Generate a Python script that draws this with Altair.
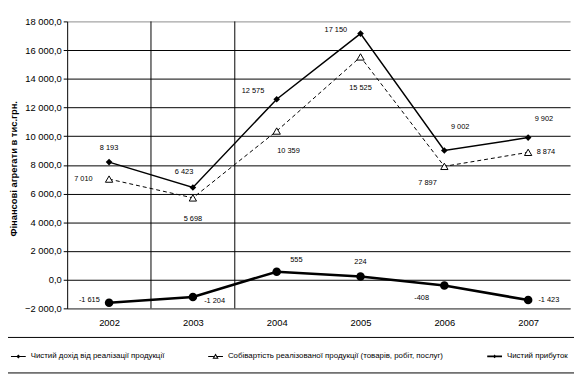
import altair as alt
import pandas as pd

# ---------------- data ----------------
years = ["2002", "2003", "2004", "2005", "2006", "2007"]
revenue = [8193, 6423, 12575, 17150, 9002, 9902]
cost = [7010, 5698, 10359, 15525, 7897, 8874]
profit = [-1615, -1204, 555, 224, -408, -1423]
series_names = [
    "Чистий дохід від реалізації продукції",
    "Собівартість реалізованої продукції (товарів, робіт, послуг)",
    "Чистий прибуток",
]
y_ticks = list(range(-2000, 18001, 2000))
grid_after = ["2002", "2003"]
y_title = "Фінансові агрегати в тис.грн."

# label placement (pixel offsets from the point), per series
label_offsets = [
    [(0, -14), (-9, -16), (-24, -8), (-25, -4), (16, -24), (16, -19)],
    [(-26, 0), (0, 21), (12, 20), (0, 32), (-17, 17), (18, 0)],
    [(-20, -3), (22, 4), (20, -12), (0, -15), (-23, 13), (21, 0)],
]

FONT = "Liberation Sans"

rows = []
for name, vals in zip(series_names, [revenue, cost, profit]):
    for yr, v in zip(years, vals):
        rows.append({"year": yr, "value": v, "series": name,
                     "label": f"{v:,}".replace(",", " ")})
df = pd.DataFrame(rows)

x_scale = alt.Scale(type="point", domain=years, padding=0.5)
y_scale = alt.Scale(domain=[-2000, 18000], nice=False, zero=False)

x_axis = alt.Axis(title=None, labelAngle=0, ticks=False, domainColor="#8c8c8c",
                  domainWidth=1, labelFont=FONT, labelFontSize=9.5,
                  labelColor="black", labelPadding=9, grid=False)
y_axis = alt.Axis(
    values=y_ticks,
    labelExpr="replace(replace(format(datum.value, ',.1f'), regexp(',', 'g'), ' '), '.', ',')",
    tickSize=4, tickColor="black", domainColor="black", labelFont=FONT,
    labelFontSize=9.5, labelColor="black", labelPadding=2,
    grid=True,
    gridColor={"condition": {"test": "datum.value === 18000", "value": "#8c8c8c"},
               "value": "black"},
    title=y_title, titleFont=FONT, titleFontSize=9.5, titleFontWeight="bold",
    titleColor="black", titleX=-54, titleY=149, titleAngle=-90,
    titleAlign="center", titleBaseline="middle",
)


def X():
    return alt.X("year:N", scale=x_scale, axis=x_axis)


def Y():
    return alt.Y("value:Q", scale=y_scale, axis=y_axis)


base = alt.Chart(df)

rules = alt.Chart(pd.DataFrame({"year": grid_after})).mark_rule(
    color="black", strokeWidth=1, xOffset=42.5
).encode(x=X())

line_styles = [
    dict(strokeWidth=1.5),
    dict(strokeWidth=1, strokeDash=[4, 3]),
    dict(strokeWidth=2.6),
]
point_styles = [
    dict(shape="diamond", size=45, filled=True, color="black"),
    dict(shape="triangle-up", size=55, filled=False, fill="white", stroke="black", strokeWidth=1),
    dict(shape="circle", size=75, filled=True, color="black"),
]

layers = [rules]
for i, name in enumerate(series_names):
    sub = base.transform_filter(alt.datum.series == name)
    layers.append(sub.mark_line(color="black", **line_styles[i]).encode(x=X(), y=Y()))
for i, name in enumerate(series_names):
    sub = base.transform_filter(alt.datum.series == name)
    layers.append(sub.mark_point(opacity=1, **point_styles[i]).encode(x=X(), y=Y()))
for i, name in enumerate(series_names):
    for j, yr in enumerate(years):
        dx, dy = label_offsets[i][j]
        sub = base.transform_filter(
            (alt.datum.series == name) & (alt.datum.year == yr))
        layers.append(sub.mark_text(font=FONT, fontSize=7.5, color="black",
                                    dx=dx, dy=dy, align="center",
                                    baseline="middle").encode(
            x=X(), y=Y(), text="label:N"))

# legend symbols: line + marker, drawn as filled custom paths
legend_paths = [
    "M-1,-0.07H1V0.07H-1ZM0,-0.27L0.27,0L0,0.27L-0.27,0Z",
    "M-1,-0.07H-0.24V0.07H-1ZM0.24,-0.07H1V0.07H0.24Z"
    "M0,-0.4L0.42,0.32L-0.42,0.32ZM0,-0.12L-0.176,0.18L0.176,0.18Z",
    "M-1,-0.12H1V0.12H-1ZM0,-0.25L0.25,0L0,0.25L-0.25,0Z",
]
legend_def = alt.Legend(
    title=None, orient="none", legendX=-69, legendY=320,
    direction="horizontal", columns=3, symbolSize=225, symbolOpacity=1,
    symbolStrokeWidth=0, labelFont=FONT,
    labelFontSize=8, labelColor="black", labelOffset=5, labelLimit=0,
    columnPadding=44, padding=12, strokeColor="black",
)
legend_layer = base.transform_filter(alt.datum.year == "2002").mark_point(
    opacity=0, size=225, strokeWidth=0
).encode(
    x=X(), y=Y(),
    shape=alt.Shape("series:N", scale=alt.Scale(domain=series_names, range=legend_paths),
                    legend=legend_def),
    fill=alt.Fill("series:N", scale=alt.Scale(domain=series_names,
                                              range=["black", "black", "black"]),
                  legend=legend_def),
)
layers.append(legend_layer)

chart = alt.layer(*layers).properties(
    width=510, height=291,
    autosize=alt.AutoSizeParams(type="none"),
    padding={"left": 60, "top": 11, "right": 4, "bottom": 66},
    background="white",
).configure_view(stroke=None)

chart.save("out.html", embed_options={"renderer": "svg", "actions": False})
